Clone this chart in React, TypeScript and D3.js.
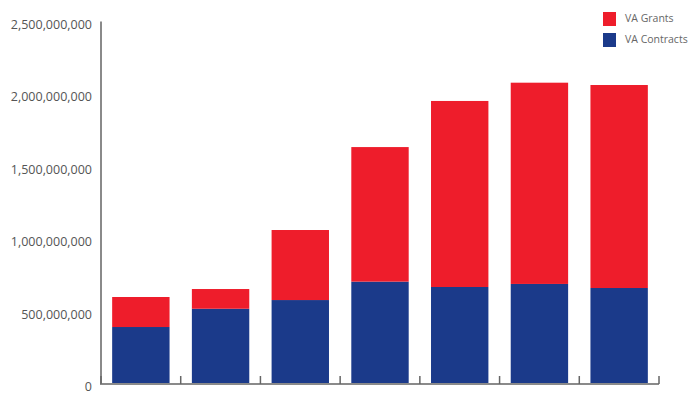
import React from "react";
import * as d3 from "d3";

const categories = ["1", "2", "3", "4", "5", "6", "7"];
const contracts = [393e6, 519e6, 579e6, 706e6, 669e6, 690e6, 662e6];
const grants = [207e6, 136e6, 483e6, 928e6, 1283e6, 1388e6, 1400e6];
const yTicks = [0, 500e6, 1000e6, 1500e6, 2000e6, 2500e6];
const seriesNames = ["VA Grants", "VA Contracts"];
const colors = { grants: "#EE1D2B", contracts: "#1B3A8A" };

const W = 689, H = 394;
const left = 101, right = 659, top = 21.5, bottom = 384;

export default function App() {
  const x = d3.scaleBand<string>().domain(categories).range([left, right]).paddingInner(0).paddingOuter(0);
  const y = d3.scaleLinear().domain([0, 2500e6]).range([bottom, top]);
  const bw = x.bandwidth() * 0.72;
  const fmt = d3.format(",");
  const font = "'Open Sans', sans-serif";
  const boundaries = categories.map((c) => x(c)!).concat([right]);

  return (
    <svg width={W} height={H} style={{ position: "absolute", left: 0, top: 0, background: "#fff" }}>
      {categories.map((c, i) => {
        const cx = x(c)! + x.bandwidth() / 2;
        const total = contracts[i] + grants[i];
        return (
          <g key={c}>
            <rect x={cx - bw / 2} y={y(contracts[i])} width={bw} height={y(0) - y(contracts[i])} fill={colors.contracts} />
            <rect x={cx - bw / 2} y={y(total)} width={bw} height={y(contracts[i]) - y(total)} fill={colors.grants} />
          </g>
        );
      })}
      <line x1={left} x2={left} y1={top} y2={bottom + 1} stroke="#8a8a8a" strokeWidth={2} />
      <line x1={left} x2={right} y1={bottom} y2={bottom} stroke="#8a8a8a" strokeWidth={2} />
      {boundaries.map((bx, i) => (
        <line key={i} x1={bx} x2={bx} y1={bottom - 8} y2={bottom} stroke="#666" strokeWidth={1.5} />
      ))}
      {yTicks.map((t) => (
        <text key={t} x={92} y={y(t) + 4} textAnchor="end" dominantBaseline="middle" fontFamily={font} fontSize={12.5} fill="#555">
          {fmt(t)}
        </text>
      ))}
      {seriesNames.map((s, i) => (
        <g key={s}>
          <rect x={603} y={12 + i * 21} width={13} height={14} fill={i === 0 ? colors.grants : colors.contracts} />
          <text x={625} y={19 + i * 21} dominantBaseline="middle" fontFamily={font} fontSize={10.5} fill="#666">
            {s}
          </text>
        </g>
      ))}
    </svg>
  );
}
